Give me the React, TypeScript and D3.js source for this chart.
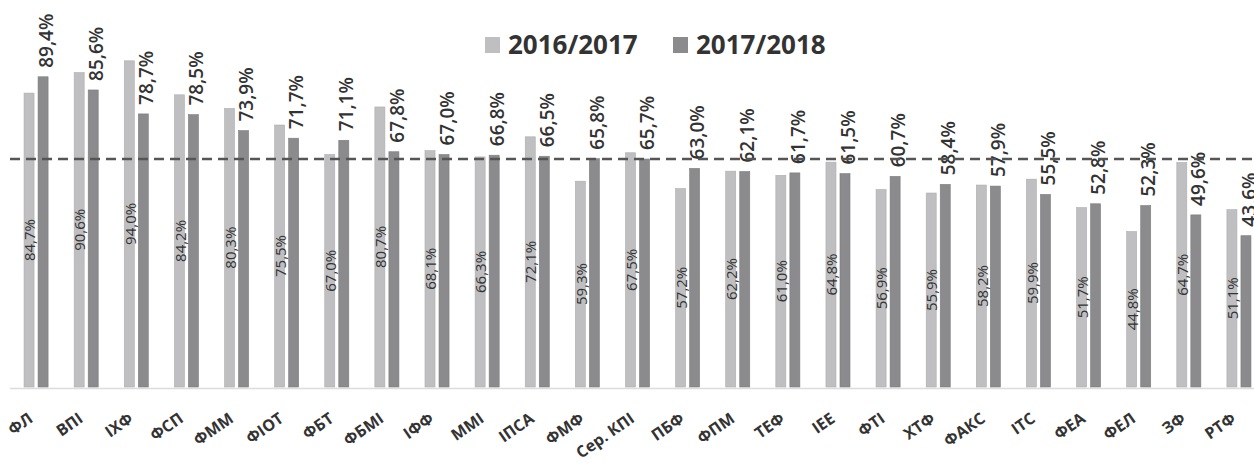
import React, { useRef, useEffect } from 'react';
import * as d3 from 'd3';

// faculties, sorted by the 2017/2018 value
const categories = ['ФЛ', 'ВПІ', 'ІХФ', 'ФСП', 'ФММ', 'ФІОТ', 'ФБТ', 'ФБМІ', 'ІФФ', 'ММІ', 'ІПСА', 'ФМФ', 'Сер. КПІ',
    'ПБФ', 'ФПМ', 'ТЕФ', 'ІЕЕ', 'ФТІ', 'ХТФ', 'ФАКС', 'ІТС', 'ФЕА', 'ФЕЛ', 'ЗФ', 'РТФ'];
const values2016 = [84.7, 90.6, 94.0, 84.2, 80.3, 75.5, 67.0, 80.7, 68.1, 66.3, 72.1, 59.3, 67.5,
    57.2, 62.2, 61.0, 64.8, 56.9, 55.9, 58.2, 59.9, 51.7, 44.8, 64.7, 51.1];
const values2017 = [89.4, 85.6, 78.7, 78.5, 73.9, 71.7, 71.1, 67.8, 67.0, 66.8, 66.5, 65.8, 65.7,
    63.0, 62.1, 61.7, 61.5, 60.7, 58.4, 57.9, 55.5, 52.8, 52.3, 49.6, 43.6];
const seriesNames = ['2016/2017', '2017/2018'];
const averageLine = 65.7; // Сер. КПІ 2017/2018

const colors = ['#bfbfc1', '#8b8b8d'];
const fmt = (v: number) => v.toFixed(1).replace('.', ',') + '%';
const font = '"Open Sans", "DejaVu Sans", sans-serif';

const Chart = () => {
    const ref = useRef<SVGSVGElement>(null);

    useEffect(() => {
        const svg = d3.select(ref.current);
        svg.selectAll('*').remove();

        const width = 1254;

        // --- Scales ---
        const x0 = d3.scaleBand<string>()
            .domain(categories)
            .range([11, 1264]) // the right-most group is cut by the edge
            .paddingInner(0.52)
            .paddingOuter(0.26);
        const x1 = d3.scaleBand<string>()
            .domain(seriesNames)
            .range([0, x0.bandwidth()])
            .paddingInner(0.2857);
        const y = d3.scaleLinear().domain([0, 100]).range([387, 40]);

        const rows = categories.map((c, i) => ({ cat: c, v: [values2016[i], values2017[i]] }));

        // --- Baseline ---
        svg.append('line')
            .attr('x1', 10).attr('x2', width)
            .attr('y1', y(0) + 1.5).attr('y2', y(0) + 1.5)
            .attr('stroke', '#dcdcdc')
            .attr('stroke-width', 1.5);

        // --- Bars ---
        const groups = svg.append('g').selectAll('g')
            .data(rows)
            .join('g')
            .attr('transform', d => `translate(${x0(d.cat)},0)`);

        groups.selectAll('rect')
            .data(d => d.v.map((v, k) => ({ v, k })))
            .join('rect')
            .attr('x', d => x1(seriesNames[d.k]))
            .attr('width', x1.bandwidth())
            .attr('y', d => y(d.v))
            .attr('height', d => y(0) - y(d.v))
            .attr('fill', d => colors[d.k])
            .attr('stroke', d => d.k === 0 ? '#adadaf' : '#7d7d7f')
            .attr('stroke-width', 0.6);

        // --- Average dashed line ---
        svg.append('line')
            .attr('x1', 10).attr('x2', width)
            .attr('y1', y(averageLine)).attr('y2', y(averageLine))
            .attr('stroke', '#555555')
            .attr('stroke-width', 2.5)
            .attr('stroke-dasharray', '10,6');

        // --- Labels inside the light bars ---
        groups.append('text')
            .attr('transform', d => {
                const cx = x1(seriesNames[0]) + x1.bandwidth() / 2 + 1;
                const cy = (y(d.v[0]) + y(0)) / 2;
                return `translate(${cx},${cy}) rotate(-90)`;
            })
            .attr('text-anchor', 'middle')
            .attr('dy', '0.35em')
            .attr('font-family', font)
            .attr('font-size', 15)
            .attr('fill', '#333333')
            .text(d => fmt(d.v[0]));

        // --- Labels above the dark bars ---
        groups.append('text')
            .attr('transform', d => {
                const cx = x1(seriesNames[1]) + x1.bandwidth() / 2 + 3;
                const cy = y(d.v[1]) - 9;
                return `translate(${cx},${cy}) rotate(-90)`;
            })
            .attr('text-anchor', 'start')
            .attr('dy', '0.35em')
            .attr('font-family', font)
            .attr('font-size', 19)
            .attr('font-weight', 600)
            .attr('fill', '#333333')
            .text(d => fmt(d.v[1]));

        // --- Category labels, slanted 35 degrees ---
        const a = -35 * Math.PI / 180;
        const cos = Math.cos(a), sin = Math.sin(a);
        svg.append('g').selectAll('text')
            .data(categories)
            .join('text')
            .attr('transform', d => `matrix(${cos},${sin},${-sin},${cos},${x0(d) + x0.bandwidth() / 2 - 2},421)`)
            .attr('text-anchor', 'end')
            .attr('font-family', font)
            .attr('font-size', 16)
            .attr('font-weight', 700)
            .attr('fill', '#333333')
            .text(d => d);

        // --- Legend ---
        const legendX = [485, 673];
        const legend = svg.append('g').selectAll('g')
            .data(seriesNames)
            .join('g')
            .attr('transform', (d, i) => `translate(${legendX[i]},0)`);
        legend.append('rect')
            .attr('x', 0).attr('y', 37)
            .attr('width', 15).attr('height', 16)
            .attr('fill', (d, i) => colors[i]);
        legend.append('text')
            .attr('x', 23).attr('y', 54)
            .attr('font-family', font)
            .attr('font-size', 26)
            .attr('font-weight', 700)
            .attr('fill', '#333333')
            .text(d => d);
    }, []);

    return (
        <svg ref={ref} width={1254} height={464}
            style={{ position: 'absolute', left: 0, top: 0, background: '#ffffff' }} />
    );
};

export default function App() {
    return <Chart />;
}
